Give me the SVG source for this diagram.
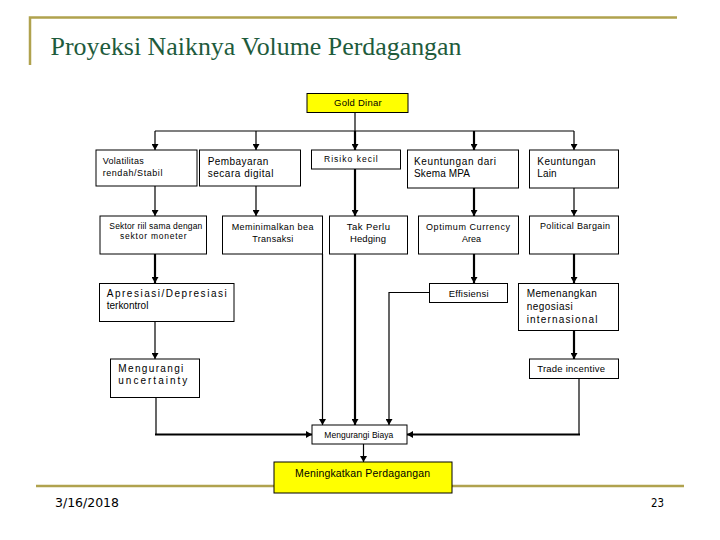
<svg xmlns="http://www.w3.org/2000/svg" width="720" height="540" viewBox="0 0 720 540">
<defs>
<style>
.frame{stroke:#B0A24E;stroke-width:2.5;fill:none}
.box{fill:#ffffff;stroke:#000;stroke-width:1}
.ybox{fill:#ffff00;stroke:#000;stroke-width:1}
.t{font-family:"Liberation Sans",Arial,sans-serif;fill:#000}
.c{stroke:#000;fill:none;stroke-width:1.2}
.k{stroke:#000;fill:none;stroke-width:2.2}
.foot{font-family:"DejaVu Sans",Tahoma,sans-serif;font-size:12px;fill:#000}
</style>
<marker id="ah" markerUnits="userSpaceOnUse" markerWidth="7" markerHeight="7" refX="6" refY="3.5" orient="auto">
<path d="M0,0 L6,3.5 L0,7 z" fill="#000"/>
</marker>
</defs>
<rect width="720" height="540" fill="#fff"/>
<g id="frame">
<polyline class="frame" points="30,65 30,17.5 677,17.5"/>
<line class="frame" x1="36" y1="486" x2="684" y2="486"/>
<text x="50.5" y="55" font-family="'Liberation Serif','Times New Roman',serif" font-size="26" fill="#1E5B3C" textLength="411" lengthAdjust="spacingAndGlyphs">Proyeksi Naiknya Volume Perdagangan</text>
<text class="foot" x="55" y="507" textLength="64" lengthAdjust="spacingAndGlyphs">3/16/2018</text>
<text class="foot" x="651" y="507" textLength="13" lengthAdjust="spacingAndGlyphs">23</text>
</g>
<g id="connectors">
<line class="c" x1="355" y1="112" x2="355" y2="131"/>
<line class="c" x1="155" y1="131" x2="574" y2="131"/>
<line class="c" x1="155" y1="131" x2="155" y2="150" marker-end="url(#ah)"/>
<line class="c" x1="256" y1="131" x2="256" y2="150" marker-end="url(#ah)"/>
<line class="k" x1="355" y1="131" x2="355" y2="150" marker-end="url(#ah)"/>
<line class="k" x1="474" y1="131" x2="474" y2="150" marker-end="url(#ah)"/>
<line class="c" x1="574" y1="131" x2="574" y2="150" marker-end="url(#ah)"/>
<line class="c" x1="155" y1="186" x2="155" y2="216" marker-end="url(#ah)"/>
<line class="c" x1="256" y1="186" x2="256" y2="216" marker-end="url(#ah)"/>
<line class="k" x1="355" y1="169" x2="355" y2="216" marker-end="url(#ah)"/>
<line class="k" x1="474" y1="188" x2="474" y2="216" marker-end="url(#ah)"/>
<line class="c" x1="574" y1="188" x2="574" y2="216" marker-end="url(#ah)"/>
<line class="k" x1="155" y1="254" x2="155" y2="283" marker-end="url(#ah)"/>
<line class="k" x1="474" y1="254" x2="474" y2="283" marker-end="url(#ah)"/>
<line class="k" x1="574" y1="254" x2="574" y2="283" marker-end="url(#ah)"/>
<line class="c" x1="322.5" y1="254" x2="322.5" y2="425" marker-end="url(#ah)"/>
<line class="k" x1="355" y1="254" x2="355" y2="425" marker-end="url(#ah)"/>
<polyline class="c" points="429,292.5 389,292.5 389,425" marker-end="url(#ah)"/>
<line class="c" x1="155" y1="321" x2="155" y2="359" marker-end="url(#ah)"/>
<line class="k" x1="574" y1="330" x2="574" y2="359" marker-end="url(#ah)"/>
<line class="c" x1="156" y1="397" x2="156" y2="434.5"/>
<line class="k" x1="155" y1="434.5" x2="312" y2="434.5" marker-end="url(#ah)"/>
<line class="c" x1="579" y1="378" x2="579" y2="434.5"/>
<line class="k" x1="580" y1="434.5" x2="407" y2="434.5" marker-end="url(#ah)"/>
<line class="c" x1="363.5" y1="444" x2="363.5" y2="462" marker-end="url(#ah)"/>
</g>
<g id="n-gold">
<rect class="ybox" x="307" y="93.5" width="101" height="19"/>
<text class="t" x="334" y="106" font-size="9.5" textLength="47.7" lengthAdjust="spacing">Gold Dinar</text>
</g>
<g id="n-volatilitas">
<rect class="box" x="96" y="150" width="101" height="36"/>
<text class="t" x="102.7" y="164" font-size="9" textLength="41" lengthAdjust="spacing">Volatilitas</text>
<text class="t" x="102.7" y="176" font-size="9" textLength="59.7" lengthAdjust="spacing">rendah/Stabil</text>
</g>
<g id="n-pembayaran">
<rect class="box" x="199.5" y="150" width="101" height="36"/>
<text class="t" x="207.7" y="165" font-size="10" textLength="60.7" lengthAdjust="spacing">Pembayaran</text>
<text class="t" x="207.7" y="177" font-size="10" textLength="65.7" lengthAdjust="spacing">secara digital</text>
</g>
<g id="n-risiko">
<rect class="box" x="311.5" y="150" width="89" height="19"/>
<text class="t" x="324" y="162" font-size="8.5" textLength="53.7" lengthAdjust="spacing">Risiko kecil</text>
</g>
<g id="n-keuntungan-mpa">
<rect class="box" x="407.5" y="150" width="111" height="38"/>
<text class="t" x="414" y="165" font-size="10" textLength="82" lengthAdjust="spacing">Keuntungan dari</text>
<text class="t" x="414" y="177" font-size="10" textLength="56" lengthAdjust="spacing">Skema MPA</text>
</g>
<g id="n-keuntungan-lain">
<rect class="box" x="529.5" y="150" width="89" height="38"/>
<text class="t" x="537.3" y="165" font-size="10" textLength="58.3" lengthAdjust="spacing">Keuntungan</text>
<text class="t" x="537.3" y="177" font-size="10" textLength="19.3" lengthAdjust="spacing">Lain</text>
</g>
<g id="n-sektor">
<rect class="box" x="100" y="216" width="106.5" height="38"/>
<text class="t" x="109.3" y="229" font-size="8.5" textLength="93" lengthAdjust="spacing">Sektor riil sama dengan</text>
<text class="t" x="120" y="239" font-size="8.5" textLength="66.7" lengthAdjust="spacing">sektor moneter</text>
</g>
<g id="n-meminimalkan">
<rect class="box" x="222.5" y="216" width="100" height="38"/>
<text class="t" x="231.7" y="230" font-size="9" textLength="81.7" lengthAdjust="spacing">Meminimalkan bea</text>
<text class="t" x="252.3" y="241.7" font-size="9" textLength="41" lengthAdjust="spacing">Transaksi</text>
</g>
<g id="n-hedging">
<rect class="box" x="329.5" y="216" width="78" height="38"/>
<text class="t" x="346.7" y="230" font-size="9.5" textLength="43.3" lengthAdjust="spacing">Tak Perlu</text>
<text class="t" x="350" y="242.3" font-size="9.5" textLength="36" lengthAdjust="spacing">Hedging</text>
</g>
<g id="n-optimum">
<rect class="box" x="418.5" y="216" width="100" height="38"/>
<text class="t" x="426" y="230" font-size="9" textLength="84" lengthAdjust="spacing">Optimum Currency</text>
<text class="t" x="462" y="241.7" font-size="9" textLength="19" lengthAdjust="spacing">Area</text>
</g>
<g id="n-political">
<rect class="box" x="529.5" y="216" width="89" height="38"/>
<text class="t" x="540" y="229" font-size="9" textLength="70" lengthAdjust="spacing">Political Bargain</text>
</g>
<g id="n-apresiasi">
<rect class="box" x="99.5" y="283.5" width="134.5" height="38"/>
<text class="t" x="106.7" y="296.7" font-size="10" textLength="120" lengthAdjust="spacing">Apresiasi/Depresiasi</text>
<text class="t" x="106.7" y="309" font-size="10" textLength="41.7" lengthAdjust="spacing">terkontrol</text>
</g>
<g id="n-effisiensi">
<rect class="box" x="429.5" y="283.5" width="78" height="19"/>
<text class="t" x="448.7" y="296.7" font-size="9.5" textLength="40" lengthAdjust="spacing">Effisiensi</text>
</g>
<g id="n-memenangkan">
<rect class="box" x="518.5" y="283.5" width="100" height="47"/>
<text class="t" x="526.7" y="296.7" font-size="10" textLength="70" lengthAdjust="spacing">Memenangkan</text>
<text class="t" x="526.7" y="310" font-size="10" textLength="46" lengthAdjust="spacing">negosiasi</text>
<text class="t" x="526.7" y="323.3" font-size="10" textLength="70.7" lengthAdjust="spacing">internasional</text>
</g>
<g id="n-uncertainty">
<rect class="box" x="110.5" y="359" width="89" height="38.5"/>
<text class="t" x="118.3" y="371.7" font-size="10" textLength="65" lengthAdjust="spacing">Mengurangi</text>
<text class="t" x="118.3" y="384.3" font-size="10" textLength="69" lengthAdjust="spacing">uncertainty</text>
</g>
<g id="n-trade">
<rect class="box" x="529.5" y="359" width="89" height="19.5"/>
<text class="t" x="537.3" y="371.7" font-size="9.5" textLength="67.7" lengthAdjust="spacing">Trade incentive</text>
</g>
<g id="n-biaya">
<rect class="box" x="312" y="425" width="95" height="19"/>
<text class="t" x="324.3" y="438.3" font-size="8.5" textLength="69" lengthAdjust="spacing">Mengurangi Biaya</text>
</g>
<g id="n-meningkatkan">
<rect class="ybox" x="274" y="462" width="178" height="31"/>
<text class="t" x="295" y="476.7" font-size="10.5" textLength="135" lengthAdjust="spacing">Meningkatkan Perdagangan</text>
</g>
</svg>
